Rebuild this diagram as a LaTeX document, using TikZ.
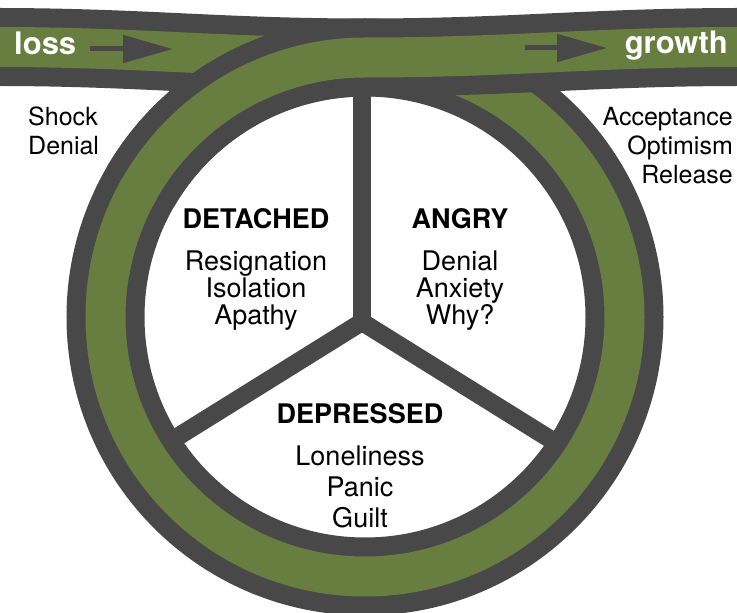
\documentclass[tikz,border=0pt]{standalone}
\usepackage{fontspec}
\setmainfont{TeX Gyre Heros}
\usepackage{tikz}
\usetikzlibrary{arrows.meta}
\definecolor{roadgreen}{RGB}{104,126,65}
\definecolor{roadgray}{RGB}{72,72,72}

\begin{document}
\begin{tikzpicture}[x=1pt, y=1pt]
        \tikzset{roadedge/.style={draw=roadgray, line width=78pt}}
        \tikzset{roadlane/.style={draw=roadgreen, line width=40pt}}
        \tikzset{spoke/.style={draw=roadgray, line width=18pt}}
        \tikzset{lanearrow/.style={draw=roadgray, line width=5pt, -{Triangle[length=50pt,width=27pt]}}}
        \tikzset{roadlabel/.style={inner sep=0, text=white, font=\bfseries\fontsize{31}{31}\selectfont}}
        \tikzset{sidelabel/.style={inner sep=0, font=\fontsize{25}{29}\selectfont}}
        \tikzset{sector/.style={inner sep=0, anchor=north, align=center, font=\fontsize{27}{27}\selectfont}}
        \useasboundingbox (0,0) rectangle (737,613);
        \clip (0,0) rectangle (737,613);
        \coordinate (hub) at (362,291);
        \coordinate (spoketop) at (362,560);
        \coordinate (spokeleft) at (158,164);
        \coordinate (spokeright) at (566,164);
        \coordinate (lossend) at (-5,566);
        \coordinate (ringtop) at (365,555.5);
        \coordinate (growthend) at (742,566);
        % spokes under the ring
        \draw[spoke] (spokeleft) -- (hub) -- (spokeright);
        \draw[spoke] (hub) -- (spoketop);
        % road from loss, round the whole ring
        \foreach \s in {roadedge,roadlane}
          \path[\s] (lossend) to[out=0,in=180] (ringtop) arc[start angle=90, end angle=-270, radius=259.5pt];
        % upper pass, out to growth
        \path[roadedge] (365,296) ++(150:259.5pt) arc[start angle=150, end angle=90, radius=259.5pt] to[out=0,in=180] (growthend);
        \path[roadlane] (365,296) ++(170:259.5pt) arc[start angle=170, end angle=90, radius=259.5pt] to[out=0,in=180] (growthend);
        % lane arrows
        \coordinate (lossa) at (90,564);
        \coordinate (lossb) at (173,564);
        \coordinate (growa) at (525,565);
        \coordinate (growb) at (607,565);
        \draw[lanearrow] (lossa) -- (lossb);
        \draw[lanearrow] (growa) -- (growb);
        \node[roadlabel, anchor=base west] (loss) at (14,558) {loss};
        \node[roadlabel, anchor=base east] (growth) at (728,559) {growth};
        \node[sidelabel, anchor=north west, align=left] (shock) at (28,506) {Shock\\Denial};
        \node[sidelabel, anchor=north east, align=right] (accept) at (733,506) {Acceptance\\Optimism\\Release};
        \node[sector] (detached) at (256,405) {\textbf{DETACHED}\\[15pt]Resignation\\Isolation\\Apathy};
        \node[sector] (angry) at (460,405) {\textbf{ANGRY}\\[15pt]Denial\\Anxiety\\Why?};
        \node[sector, font=\fontsize{27}{31}\selectfont] (depressed) at (360,210) {\textbf{DEPRESSED}\\[11pt]Loneliness\\Panic\\Guilt};
\end{tikzpicture}
\end{document}
